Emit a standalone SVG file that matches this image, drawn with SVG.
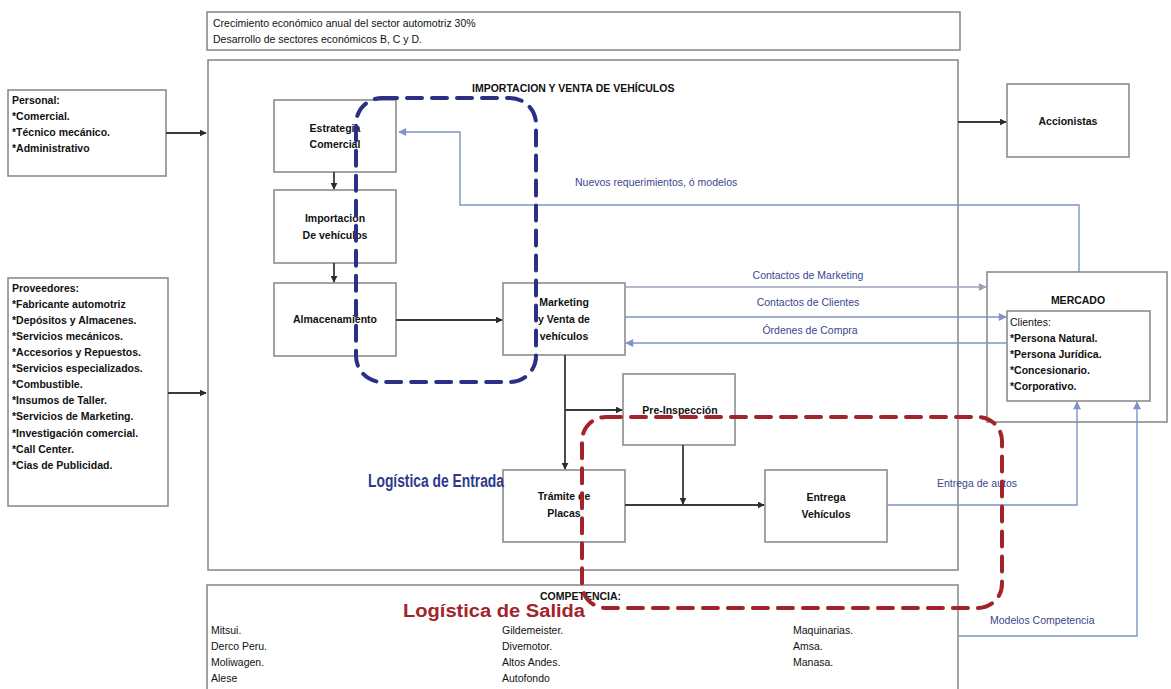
<svg xmlns="http://www.w3.org/2000/svg" width="1171" height="689" viewBox="0 0 1171 689">
  <defs>
    <style>
      .box { fill: #ffffff; stroke: #8c8c8c; stroke-width: 1.6; }
      .t { font-family: "Liberation Sans", Arial, sans-serif; font-size: 10.5px; fill: #111; }
      .tb { font-family: "Liberation Sans", Arial, sans-serif; font-size: 10.5px; font-weight: bold; fill: #111; }
      .tc { text-anchor: middle; }
      .blue { font-family: "Liberation Sans", Arial, sans-serif; font-size: 10.5px; fill: #3b4690; }
      .flow { fill: none; stroke: #3a3a3a; stroke-width: 1.8; }
      .info { fill: none; stroke: #7f93c9; stroke-width: 1.4; }
      .infog { fill: none; stroke: #9aa3b8; stroke-width: 1.4; }
      .zoneIn { fill: none; stroke: #2b2f86; stroke-width: 4; stroke-dasharray: 15 10; stroke-linecap: round; }
      .zoneOut { fill: none; stroke: #a3232a; stroke-width: 4; stroke-dasharray: 15 10; stroke-linecap: round; }
      .zoneLbl { font-family: "Liberation Sans", Arial, sans-serif; font-weight: bold; font-size: 18px; }
    </style>
    <marker id="ah" viewBox="0 0 10 10" refX="9" refY="5" markerWidth="7" markerHeight="7" orient="auto-start-reverse" markerUnits="userSpaceOnUse">
      <path d="M0,0 L10,5 L0,10 z" fill="#2a2a2a"/>
    </marker>
    <marker id="ahb" viewBox="0 0 10 10" refX="9" refY="5" markerWidth="9" markerHeight="8" orient="auto-start-reverse" markerUnits="userSpaceOnUse">
      <path d="M0,0 L10,5 L0,10 z" fill="#7f93c9"/>
    </marker>
    <marker id="ahg" viewBox="0 0 10 10" refX="9" refY="5" markerWidth="9" markerHeight="8" orient="auto-start-reverse" markerUnits="userSpaceOnUse">
      <path d="M0,0 L10,5 L0,10 z" fill="#9aa3b8"/>
    </marker>
  </defs>

  <rect width="1171" height="689" fill="#ffffff"/>

  <!-- environment -->
  <g id="entorno">
    <rect class="box" x="207" y="12" width="753" height="38"/>
    <text class="t" x="213" y="27">Crecimiento económico anual del sector automotriz 30%</text>
    <text class="t" x="213" y="43">Desarrollo de sectores económicos B, C y D.</text>
  </g>

  <!-- main company frame -->
  <g id="empresa">
    <rect class="box" x="208" y="60" width="750" height="510"/>
    <text class="tb" x="472" y="92" font-size="10">IMPORTACION Y VENTA DE VEHÍCULOS</text>
  </g>

  <g id="personal">
    <rect class="box" x="8" y="90" width="158" height="86"/>
    <text class="tb" x="12" y="104">Personal:</text>
    <text class="tb" x="12" y="120">*Comercial.</text>
    <text class="tb" x="12" y="136">*Técnico mecánico.</text>
    <text class="tb" x="12" y="152">*Administrativo</text>
  </g>

  <g id="proveedores">
    <rect class="box" x="8" y="278" width="160" height="228"/>
    <text class="tb" x="12" y="292">Proveedores:</text>
    <text class="tb" x="12" y="308">*Fabricante automotriz</text>
    <text class="tb" x="12" y="324">*Depósitos y Almacenes.</text>
    <text class="tb" x="12" y="340">*Servicios mecánicos.</text>
    <text class="tb" x="12" y="356">*Accesorios y Repuestos.</text>
    <text class="tb" x="12" y="372">*Servicios especializados.</text>
    <text class="tb" x="12" y="388">*Combustible.</text>
    <text class="tb" x="12" y="404">*Insumos de Taller.</text>
    <text class="tb" x="12" y="420">*Servicios de Marketing.</text>
    <text class="tb" x="12" y="437">*Investigación comercial.</text>
    <text class="tb" x="12" y="453">*Call Center.</text>
    <text class="tb" x="12" y="469">*Cias de Publicidad.</text>
  </g>

  <g id="estrategia">
    <rect class="box" x="274" y="100" width="122" height="72"/>
    <text class="tb tc" x="335" y="132" font-size="10">Estrategia</text>
    <text class="tb tc" x="335" y="148" font-size="10">Comercial</text>
  </g>

  <g id="importacion">
    <rect class="box" x="274" y="190" width="122" height="73"/>
    <text class="tb tc" x="335" y="222" font-size="10">Importación</text>
    <text class="tb tc" x="335" y="239" font-size="10">De vehículos</text>
  </g>

  <g id="almacenamiento">
    <rect class="box" x="274" y="283" width="122" height="73"/>
    <text class="tb tc" x="335" y="323" font-size="10">Almacenamiento</text>
  </g>

  <g id="marketing">
    <rect class="box" x="503" y="283" width="122" height="72"/>
    <text class="tb tc" x="564" y="306" font-size="11">Marketing</text>
    <text class="tb tc" x="564" y="323" font-size="11">y Venta de</text>
    <text class="tb tc" x="564" y="340" font-size="11">vehículos</text>
  </g>

  <g id="preinspeccion">
    <rect class="box" x="623" y="374" width="112" height="71"/>
    <text class="tb tc" x="680" y="414" font-size="10.5">Pre-Inspección</text>
  </g>

  <g id="tramite">
    <rect class="box" x="503" y="470" width="122" height="72"/>
    <text class="tb tc" x="564" y="500" font-size="10.5">Trámite de</text>
    <text class="tb tc" x="564" y="517" font-size="10.5">Placas</text>
  </g>

  <g id="entrega">
    <rect class="box" x="765" y="470" width="122" height="72"/>
    <text class="tb tc" x="826" y="501" font-size="10.5">Entrega</text>
    <text class="tb tc" x="826" y="518" font-size="10.5">Vehículos</text>
  </g>

  <g id="accionistas">
    <rect class="box" x="1007" y="84" width="122" height="73"/>
    <text class="tb tc" x="1068" y="125" font-size="10.5">Accionistas</text>
  </g>

  <g id="mercado">
    <rect class="box" x="987" y="272" width="180" height="150"/>
    <text class="tb tc" x="1078" y="304" font-size="10.5">MERCADO</text>
    <rect class="box" x="1007" y="311" width="143" height="90"/>
    <text class="t" x="1010" y="326">Clientes:</text>
    <text class="tb" x="1010" y="342">*Persona Natural.</text>
    <text class="tb" x="1010" y="358">*Persona Jurídica.</text>
    <text class="tb" x="1010" y="374">*Concesionario.</text>
    <text class="tb" x="1010" y="390">*Corporativo.</text>
  </g>

  <g id="competencia">
    <rect class="box" x="207" y="585" width="751" height="110"/>
    <text class="tb" x="540" y="600" font-size="10">COMPETENCIA:</text>
    <text class="t" x="211" y="634">Mitsui.</text>
    <text class="t" x="211" y="650">Derco Peru.</text>
    <text class="t" x="211" y="666">Moliwagen.</text>
    <text class="t" x="211" y="682">Alese</text>
    <text class="t" x="502" y="634">Gildemeister.</text>
    <text class="t" x="502" y="650">Divemotor.</text>
    <text class="t" x="502" y="666">Altos Andes.</text>
    <text class="t" x="502" y="682">Autofondo</text>
    <text class="t" x="793" y="634">Maquinarias.</text>
    <text class="t" x="793" y="650">Amsa.</text>
    <text class="t" x="793" y="666">Manasa.</text>
  </g>

  <!-- connectors -->
  <g id="conectores">
    <!-- material flow -->
    <line class="flow" x1="166" y1="133" x2="206" y2="133" marker-end="url(#ah)"/>
    <line class="flow" x1="168" y1="393" x2="206" y2="393" marker-end="url(#ah)"/>
    <line class="flow" x1="958" y1="122" x2="1006" y2="122" marker-end="url(#ah)"/>
    <line class="flow" x1="334" y1="172" x2="334" y2="189" marker-end="url(#ah)"/>
    <line class="flow" x1="334" y1="263" x2="334" y2="282" marker-end="url(#ah)"/>
    <line class="flow" x1="396" y1="320" x2="502" y2="320" marker-end="url(#ah)"/>
    <line class="flow" x1="565" y1="355" x2="565" y2="469" marker-end="url(#ah)"/>
    <line class="flow" x1="565" y1="410" x2="622" y2="410" marker-end="url(#ah)"/>
    <line class="flow" x1="683" y1="445" x2="683" y2="504" marker-end="url(#ah)"/>
    <line class="flow" x1="625" y1="505" x2="764" y2="505" marker-end="url(#ah)"/>

    <!-- information flow -->
    <polyline class="info" points="1079,272 1079,205 460,205 460,132 399,132" marker-end="url(#ahb)"/>
    <text class="blue" x="575" y="186">Nuevos requerimientos, ó modelos</text>

    <line class="infog" x1="625" y1="287" x2="986" y2="287" marker-end="url(#ahg)"/>
    <text class="blue tc" x="808" y="279">Contactos de Marketing</text>

    <line class="info" x1="625" y1="317" x2="1006" y2="317" marker-end="url(#ahb)"/>
    <text class="blue tc" x="808" y="306">Contactos de Clientes</text>

    <line class="info" x1="1007" y1="343" x2="626" y2="343" marker-end="url(#ahb)"/>
    <text class="blue tc" x="810" y="334">Órdenes de Compra</text>

    <polyline class="info" points="887,505 1077,505 1077,402" marker-end="url(#ahb)"/>
    <text class="blue" x="937" y="487">Entrega de autos</text>

    <polyline class="info" points="958,636 1137,636 1137,402" marker-end="url(#ahb)"/>
    <text class="blue" x="990" y="624">Modelos Competencia</text>
  </g>

  <!-- logistics zones -->
  <g id="logistica-entrada">
    <rect class="zoneIn" x="356" y="98" width="180" height="284" rx="26" ry="26"/>
    <text class="zoneLbl" x="368" y="487" fill="#2f3a8c" textLength="136" lengthAdjust="spacingAndGlyphs">Logística de Entrada</text>
  </g>

  <g id="logistica-salida">
    <rect class="zoneOut" x="582" y="417" width="420" height="191" rx="24" ry="24"/>
    <text class="zoneLbl" x="403" y="617" fill="#a3232a" font-size="19" textLength="182" lengthAdjust="spacingAndGlyphs">Logística de Salida</text>
  </g>
</svg>
